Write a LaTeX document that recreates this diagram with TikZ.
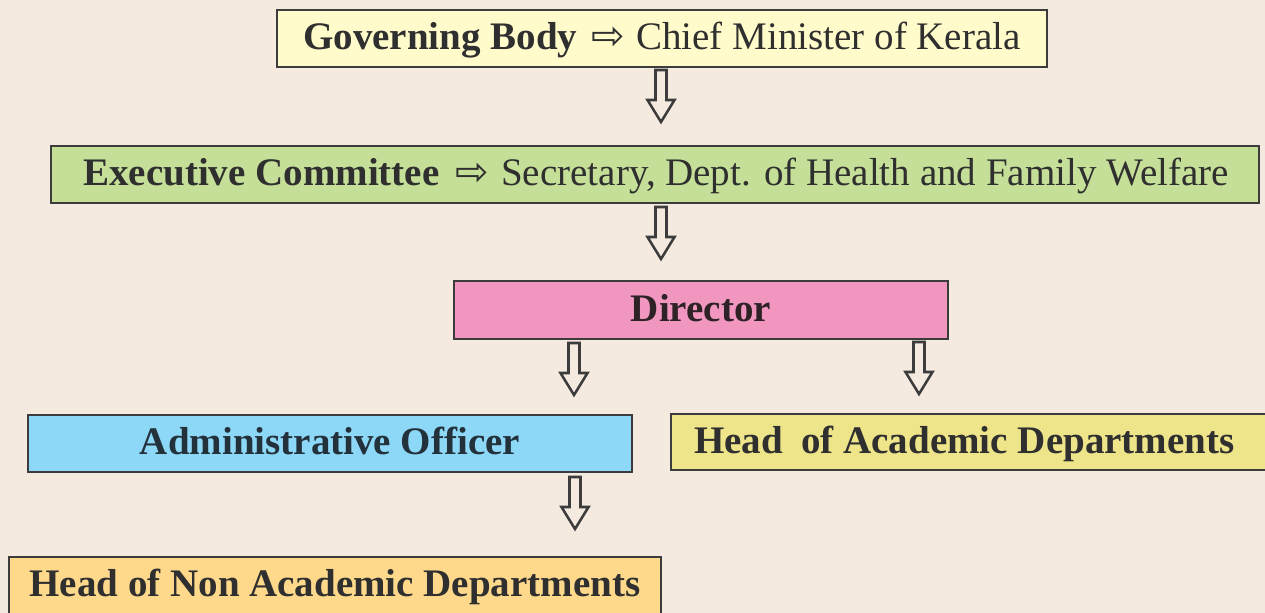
\documentclass[tikz,border=0pt]{standalone}
\usepackage{fontspec}
\setmainfont{Liberation Serif}
\newfontfamily\symfont{DejaVu Sans}
\definecolor{bgc}{HTML}{F5EAE0}
\definecolor{edgec}{HTML}{3C3C3C}
\definecolor{txtc}{HTML}{2F2F2F}
\definecolor{dirtxt}{HTML}{2E2226}
\definecolor{admtxt}{HTML}{23313B}
\definecolor{govc}{HTML}{FFFBCB}
\definecolor{exec}{HTML}{C5DF98}
\definecolor{dirc}{HTML}{F197BF}
\definecolor{admc}{HTML}{8DD7F7}
\definecolor{acac}{HTML}{EEE48A}
\definecolor{nonc}{HTML}{FFD98B}
\tikzset{
  orgbox/.style={draw=edgec, line width=1.5pt, rectangle, inner xsep=0pt, inner ysep=0pt,
    text height=19.5pt, text depth=3pt, text=txtc,
    font=\fontsize{29.25pt}{32pt}\selectfont},
  lbl/.style={inner sep=0pt, anchor=base west, text=txtc,
    font=\fontsize{29.25pt}{32pt}\selectfont},
  arrlbl/.style={inner sep=0pt, anchor=base west, text=txtc,
    font=\symfont\fontsize{30pt}{32pt}\selectfont},
  blockarr/.pic={\draw[draw=edgec, fill=bgc, line width=1.9pt, line join=miter]
    (-5.5,0) -- (-5.5,30) -- (-13.5,30) -- (0,52) -- (13.5,30) -- (5.5,30) -- (5.5,0) -- cycle;}
}
\begin{document}
\begin{tikzpicture}[x=0.75pt,y=-0.75pt]
\fill[bgc] (0,0) rectangle (1265,613);
\useasboundingbox (0,0) rectangle (1265,613);
\clip (0,0) rectangle (1265,613);

% boxes
\node[orgbox, fill=govc, minimum width=577.5pt, minimum height=42.75pt] (gov) at (662,38.5) {};
\node[orgbox, fill=exec, minimum width=906pt, minimum height=42.75pt] (exe) at (655,174.5) {};
\node[orgbox, fill=dirc, minimum width=370.5pt, minimum height=43.5pt, text=dirtxt] (dir) at (701,310)
  {\textbf{Director}};
\node[orgbox, fill=admc, minimum width=453pt, minimum height=42.75pt, text=admtxt] (adm) at (330,443.5)
  {\textbf{Administrative Officer}};
\node[orgbox, fill=acac, minimum width=453pt, minimum height=42pt] (aca) at (973,442) {};
\node[orgbox, fill=nonc, minimum width=489pt, minimum height=42.75pt] (non) at (335,585.5)
  {\textbf{Head of Non Academic Departments}};

% texts of the boxes
\node[lbl] (gov1) at (303,49.5) {\textbf{Governing Body}};
\node[arrlbl] (gov2) at (591,49.5) {⇨};
\node[lbl] (gov3) at (636,49.5) {Chief Minister of Kerala};
\node[lbl] (exe1) at (83,185.5) {\textbf{Executive Committee}};
\node[arrlbl] (exe2) at (455,185.5) {⇨};
\node[lbl] (exe3) at (501,185.5) {Secretary, Dept. of Health and Family Welfare};
\node[lbl] (aca1) at (694,453) {\textbf{Head}};
\node[lbl] (aca2) at (801,453) {\textbf{of Academic Departments}};

% connectors
\coordinate (a1) at (661,70);
\coordinate (a2) at (661,207);
\coordinate (a3) at (574,343);
\coordinate (a4) at (919,342);
\coordinate (a5) at (575,477);
\pic at (a1) {blockarr};
\pic at (a2) {blockarr};
\pic at (a3) {blockarr};
\pic at (a4) {blockarr};
\pic at (a5) {blockarr};
\end{tikzpicture}
\end{document}
